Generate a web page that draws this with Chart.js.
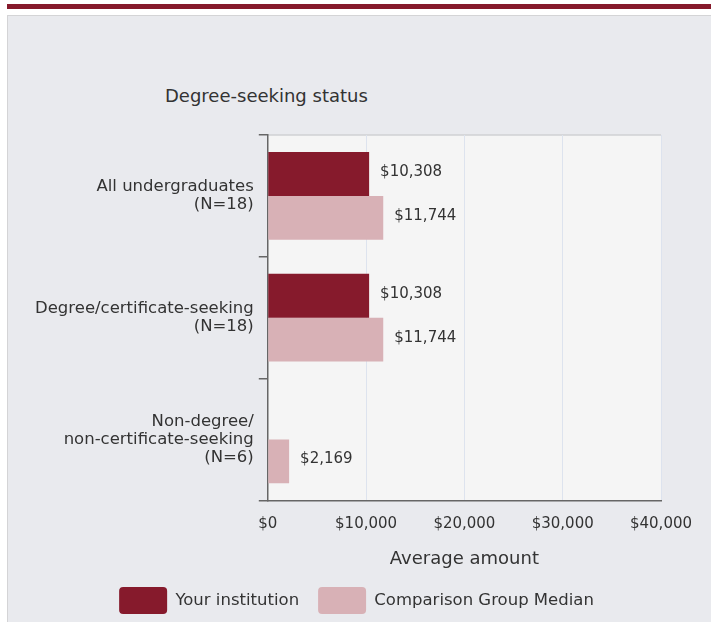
<!DOCTYPE html>
<html>
<head>
<meta charset="utf-8">
<script src="https://cdn.jsdelivr.net/npm/chart.js@4.4.1/dist/chart.umd.min.js"></script>
<style>
  html, body { margin: 0; padding: 0; background: #fff; width: 711px; height: 622px; overflow: hidden; }
  .topbar { position: absolute; left: 7px; top: 4px; width: 704px; height: 5px; background: #861a2c; }
  .panel { position: absolute; left: 7px; top: 15px; width: 740px; height: 620px; background: #e9eaee; border: 1px solid #d4d4d6; }
  .title { position: absolute; left: 157px; top: 69px; font: 18px "DejaVu Sans", sans-serif; color: #333; }
  .wrap { position: absolute; left: 1px; top: 1px; width: 703px; height: 613px; }
</style>
</head>
<body>
<div class="topbar"></div>
<div class="panel">
  <div class="title">Degree-seeking status</div>
  <div class="wrap"><canvas id="chart"></canvas></div>
</div>
<script>
// categories and values
const categories = [
  ['All undergraduates', '(N=18)'],
  ['Degree/certificate-seeking', '(N=18)'],
  ['Non-degree/', 'non-certificate-seeking', '(N=6)']
];
const yourInstitution = [10308, 10308, null];
const comparisonMedian = [11744, 11744, 2169];
const xTicks = [0, 10000, 20000, 30000, 40000];

const money = v => '$' + Number(v).toLocaleString('en-US');
const FONT = '"DejaVu Sans", sans-serif';
const TEXT = '#333';

// grey plot background behind the bars
const plotBg = {
  id: 'plotBg',
  beforeDraw(chart) {
    const { ctx, chartArea: a } = chart;
    ctx.save();
    ctx.fillStyle = '#f5f5f5';
    ctx.fillRect(a.left, a.top, a.right - a.left, a.bottom - a.top);
    ctx.strokeStyle = '#cfd0d3';
    ctx.lineWidth = 1.5;
    ctx.beginPath();
    ctx.moveTo(a.left, a.top);
    ctx.lineTo(a.right, a.top);
    ctx.stroke();
    ctx.restore();
  }
};

// the legend sits a little right of the canvas centre in the reference
const legendNudge = {
  id: 'legendNudge',
  afterLayout(chart) {
    if (!chart.legend) return;
    chart.legend.left += 11;
    chart.legend.right += 11;
  }
};

// value labels to the right of each bar
const valueLabels = {
  id: 'valueLabels',
  afterDatasetsDraw(chart) {
    const { ctx } = chart;
    ctx.save();
    ctx.font = '15px ' + FONT;
    ctx.fillStyle = TEXT;
    ctx.textBaseline = 'middle';
    ctx.textAlign = 'left';
    chart.data.datasets.forEach((ds, i) => {
      const meta = chart.getDatasetMeta(i);
      meta.data.forEach((bar, j) => {
        const v = ds.data[j];
        if (v === null || v === undefined) return;
        ctx.fillText(money(v), bar.x + 11, bar.y - 2);
      });
    });
    ctx.restore();
  }
};

new Chart(document.getElementById('chart'), {
  type: 'bar',
  data: {
    labels: categories,
    datasets: [
      { label: 'Your institution', data: yourInstitution, backgroundColor: '#861a2c', borderWidth: 0 },
      { label: 'Comparison Group Median', data: comparisonMedian, backgroundColor: '#d8b1b6', borderWidth: 0 }
    ]
  },
  options: {
    indexAxis: 'y',
    responsive: true,
    maintainAspectRatio: false,
    animation: false,
    categoryPercentage: 0.72,
    barPercentage: 1,
    layout: { padding: { top: 118, left: 21, right: 51, bottom: 6 } },
    scales: {
      x: {
        min: 0,
        max: 40000,
        afterBuildTicks: axis => { axis.ticks = xTicks.map(v => ({ value: v })); },
        grid: { color: '#dde3ee', lineWidth: 1, drawTicks: false },
        border: { display: true, color: '#666', width: 1.5 },
        ticks: { color: TEXT, font: { family: FONT, size: 15 }, padding: 15, callback: v => money(v) },
        title: { display: true, text: 'Average amount', color: TEXT, font: { family: FONT, size: 18 }, padding: { top: 0, bottom: -2 } }
      },
      y: {
        grid: { drawOnChartArea: false, color: '#666', tickLength: 9, lineWidth: 1.5 },
        border: { display: true, color: '#666', width: 1.5 },
        ticks: { color: TEXT, font: { family: FONT, size: 16.5, lineHeight: 1.1 }, padding: 5 }
      }
    },
    plugins: {
      legend: {
        position: 'bottom',
        labels: {
          color: TEXT,
          font: { family: FONT, size: 16.5 },
          boxWidth: 48,
          boxHeight: 27,
          useBorderRadius: true,
          borderRadius: 4,
          padding: 19
        }
      },
      tooltip: { enabled: false }
    }
  },
  plugins: [plotBg, legendNudge, valueLabels]
});
</script>
</body>
</html>
